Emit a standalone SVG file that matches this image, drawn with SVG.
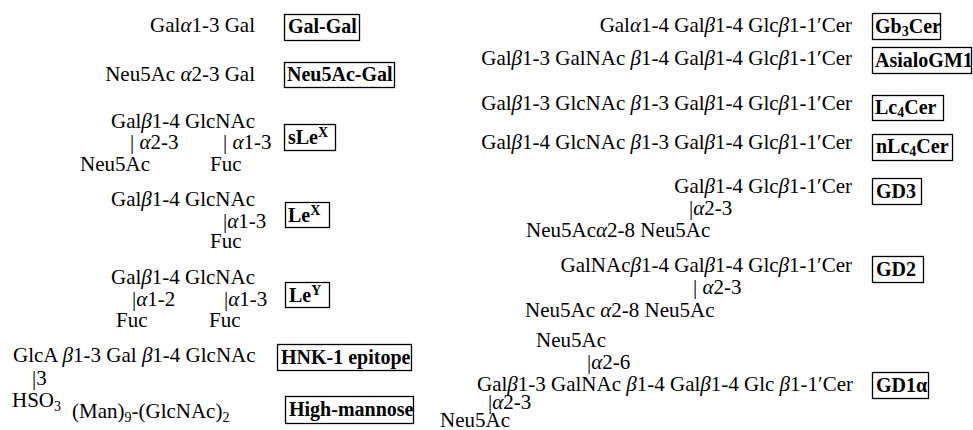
<svg xmlns="http://www.w3.org/2000/svg" width="973" height="430" viewBox="0 0 973 430" font-family="Liberation Serif, DejaVu Serif, serif" font-size="21">
<style>
text{font-family:'Liberation Serif','DejaVu Serif',serif;font-size:21px;fill:#000}
.e{text-anchor:end}
.b{font-weight:bold;font-size:20px}
.g{font-style:italic}
.s{font-size:14px}
rect.box{fill:none;stroke:#000;stroke-width:1.3}
</style>
<rect width="973" height="430" fill="#fff"/>
<g id="gal-gal">
<text class="e" x="255" y="32">Gal<tspan class="g">α</tspan>1-3 Gal</text>
<rect class="box" x="284.5" y="14.5" width="75" height="26"/>
<text class="b" x="288" y="33">Gal-Gal</text>
</g>
<g id="neu5ac-gal">
<text class="e" x="255" y="81">Neu5Ac <tspan class="g">α</tspan>2-3 Gal</text>
<rect class="box" x="284.5" y="62.5" width="110" height="25"/>
<text class="b" x="287" y="81">Neu5Ac-Gal</text>
</g>
<g id="slex">
<text class="e" x="255" y="128">Gal<tspan class="g">β</tspan>1-4 GlcNAc</text>
<text x="130" y="149">| <tspan class="g">α</tspan>2-3</text>
<text x="223" y="149">| <tspan class="g">α</tspan>1-3</text>
<text x="80" y="171">Neu5Ac</text>
<text x="210" y="171">Fuc</text>
<rect class="box" x="284.5" y="124.5" width="51" height="26"/>
<text class="b" x="288" y="144">sLe<tspan class="s" dy="-7">X</tspan></text>
</g>
<g id="lex">
<text class="e" x="255" y="206">Gal<tspan class="g">β</tspan>1-4 GlcNAc</text>
<text x="223" y="228">|<tspan class="g">α</tspan>1-3</text>
<text x="210" y="248">Fuc</text>
<rect class="box" x="285.5" y="202.5" width="44" height="25"/>
<text class="b" x="288" y="222">Le<tspan class="s" dy="-7">X</tspan></text>
</g>
<g id="ley">
<text class="e" x="255" y="284">Gal<tspan class="g">β</tspan>1-4 GlcNAc</text>
<text x="132" y="306">|<tspan class="g">α</tspan>1-2</text>
<text x="224" y="306">|<tspan class="g">α</tspan>1-3</text>
<text x="116" y="327">Fuc</text>
<text x="209" y="327">Fuc</text>
<rect class="box" x="285.5" y="282.5" width="44" height="25"/>
<text class="b" x="289" y="302">Le<tspan class="s" dy="-7">Y</tspan></text>
</g>
<g id="hnk1">
<text x="13" y="362">GlcA <tspan class="g">β</tspan>1-3 Gal <tspan class="g">β</tspan>1-4 GlcNAc</text>
<text x="32" y="385">|3</text>
<text x="12" y="407">HSO<tspan class="s" dy="4">3</tspan></text>
<rect class="box" x="277.5" y="344.5" width="134" height="26"/>
<text class="b" x="281" y="364">HNK-1 epitope</text>
</g>
<g id="high-mannose">
<text x="72" y="418">(Man)<tspan class="s" dy="4">9</tspan><tspan dy="-4">-(GlcNAc)</tspan><tspan class="s" dy="4">2</tspan></text>
<rect class="box" x="285.5" y="396.5" width="128" height="27"/>
<text class="b" x="289" y="416">High-mannose</text>
</g>
<g id="gb3cer">
<text class="e" x="852" y="32">Gal<tspan class="g">α</tspan>1-4 Gal<tspan class="g">β</tspan>1-4 Glc<tspan class="g">β</tspan>1-1′Cer</text>
<rect class="box" x="872.5" y="13.5" width="68" height="26"/>
<text class="b" x="875" y="33">Gb<tspan class="s" dy="3">3</tspan><tspan dy="-3">Cer</tspan></text>
</g>
<g id="asialogm1">
<text class="e" x="852" y="65">Gal<tspan class="g">β</tspan>1-3 GalNAc <tspan class="g">β</tspan>1-4 Gal<tspan class="g">β</tspan>1-4 Glc<tspan class="g">β</tspan>1-1′Cer</text>
<rect class="box" x="872.5" y="47.5" width="99" height="26"/>
<text class="b" x="875" y="67">AsialoGM1</text>
</g>
<g id="lc4cer">
<text class="e" x="852" y="110">Gal<tspan class="g">β</tspan>1-3 GlcNAc <tspan class="g">β</tspan>1-3 Gal<tspan class="g">β</tspan>1-4 Glc<tspan class="g">β</tspan>1-1′Cer</text>
<rect class="box" x="872.5" y="95.5" width="71" height="25"/>
<text class="b" x="875" y="114">Lc<tspan class="s" dy="3">4</tspan><tspan dy="-3">Cer</tspan></text>
</g>
<g id="nlc4cer">
<text class="e" x="852" y="149">Gal<tspan class="g">β</tspan>1-4 GlcNAc <tspan class="g">β</tspan>1-3 Gal<tspan class="g">β</tspan>1-4 Glc<tspan class="g">β</tspan>1-1′Cer</text>
<rect class="box" x="872.5" y="134.5" width="80" height="26"/>
<text class="b" x="876" y="153">nLc<tspan class="s" dy="3">4</tspan><tspan dy="-3">Cer</tspan></text>
</g>
<g id="gd3">
<text class="e" x="852" y="193">Gal<tspan class="g">β</tspan>1-4 Glc<tspan class="g">β</tspan>1-1′Cer</text>
<text x="689" y="215">|<tspan class="g">α</tspan>2-3</text>
<text x="526" y="237">Neu5Ac<tspan class="g">α</tspan>2-8 Neu5Ac</text>
<rect class="box" x="872.5" y="178.5" width="49" height="26"/>
<text class="b" x="876" y="198">GD3</text>
</g>
<g id="gd2">
<text class="e" x="852" y="272">GalNAc<tspan class="g">β</tspan>1-4 Gal<tspan class="g">β</tspan>1-4 Glc<tspan class="g">β</tspan>1-1′Cer</text>
<text x="693" y="294">| <tspan class="g">α</tspan>2-3</text>
<text x="525" y="317">Neu5Ac <tspan class="g">α</tspan>2-8 Neu5Ac</text>
<rect class="box" x="872.5" y="256.5" width="51" height="26"/>
<text class="b" x="876" y="276">GD2</text>
</g>
<g id="gd1a">
<text x="536" y="347">Neu5Ac</text>
<text x="587" y="369">|<tspan class="g">α</tspan>2-6</text>
<text class="e" x="853" y="391">Gal<tspan class="g">β</tspan>1-3 GalNAc <tspan class="g">β</tspan>1-4 Gal<tspan class="g">β</tspan>1-4 Glc <tspan class="g">β</tspan>1-1′Cer</text>
<text x="488" y="409">|<tspan class="g">α</tspan>2-3</text>
<text x="440" y="427">Neu5Ac</text>
<rect class="box" x="872.5" y="372.5" width="56" height="26"/>
<text class="b" x="876" y="392">GD1α</text>
</g>
<g id="connectors"/>
</svg>
